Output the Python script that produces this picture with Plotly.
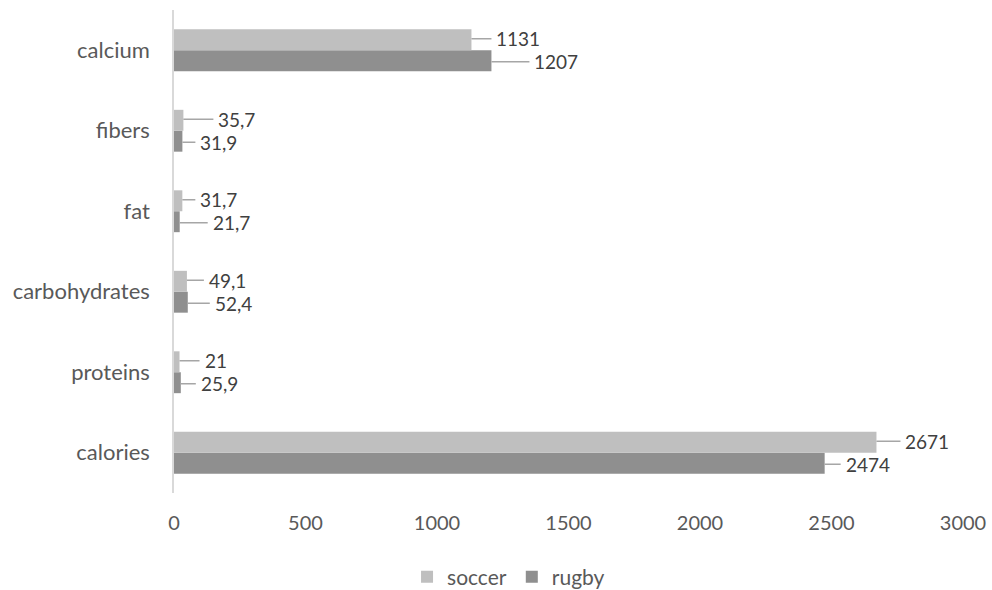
import plotly.graph_objects as go

# Nutrient intake per sport
categories = ["calories", "proteins", "carbohydrates", "fat", "fibers", "calcium"]
soccer = [2671, 21, 49.1, 31.7, 35.7, 1131]
rugby = [2474, 25.9, 52.4, 21.7, 31.9, 1207]

# leader-line lengths (px) for the data labels
soccer_leader = [24, 20, 17, 13, 30, 20]
rugby_leader = [16, 15, 22, 28, 13, 38]

SOCCER_COLOR = "#bfbfbf"
RUGBY_COLOR = "#8f8f8f"
FONT = "Lato"
BARGAP = 0.48


def fmt(v):
    return f"{v:g}".replace(".", ",")


fig = go.Figure()
# rugby first so that soccer sits above it within each group
fig.add_trace(go.Bar(y=categories, x=rugby, orientation="h", name="rugby",
                     marker=dict(color=RUGBY_COLOR, line=dict(width=0)), legendrank=2))
fig.add_trace(go.Bar(y=categories, x=soccer, orientation="h", name="soccer",
                     marker=dict(color=SOCCER_COLOR, line=dict(width=0)), legendrank=1))

half = (1 - BARGAP) / 4  # offset of each bar's centre from its category centre
annotations = []
for i, cat in enumerate(categories):
    for vals, leads, off, shift in ((soccer, soccer_leader, half, 1),
                                    (rugby, rugby_leader, -half, -1)):
        annotations.append(dict(
            x=vals[i], y=i + off, xref="x", yref="y", yshift=shift,
            text=fmt(vals[i]), showarrow=True, arrowhead=0, arrowwidth=1.5,
            arrowcolor="#a6a6a6", ax=leads[i], ay=0, xanchor="left", yanchor="middle",
            borderpad=4, font=dict(family=FONT, size=19, color="#404040"),
        ))

fig.update_layout(
    width=992, height=590,
    margin=dict(l=174, r=29, t=10, b=97, autoexpand=False),
    paper_bgcolor="white", plot_bgcolor="white",
    barmode="group", bargap=BARGAP, bargroupgap=0,
    font=dict(family=FONT, size=20, color="#595959"),
    showlegend=True,
    legend=dict(orientation="h", x=0.424, xanchor="center", y=-0.174, yanchor="middle",
                font=dict(family=FONT, size=21, color="#595959"), itemwidth=30),
    annotations=annotations,
)
fig.update_xaxes(range=[0, 3000], tickvals=[0, 500, 1000, 1500, 2000, 2500, 3000],
                 showgrid=False, zeroline=False, showline=False,
                 ticklabelstandoff=16, tickfont=dict(size=20, color="#595959"))
fig.update_yaxes(type="category", categoryorder="array", categoryarray=categories,
                 range=[-0.5, len(categories) - 0.5],
                 showgrid=False, zeroline=False, showline=True,
                 linecolor="#d9d9d9", linewidth=1.5,
                 ticklabelstandoff=18, tickfont=dict(size=22, color="#595959"))

fig.write_html("out.html")
